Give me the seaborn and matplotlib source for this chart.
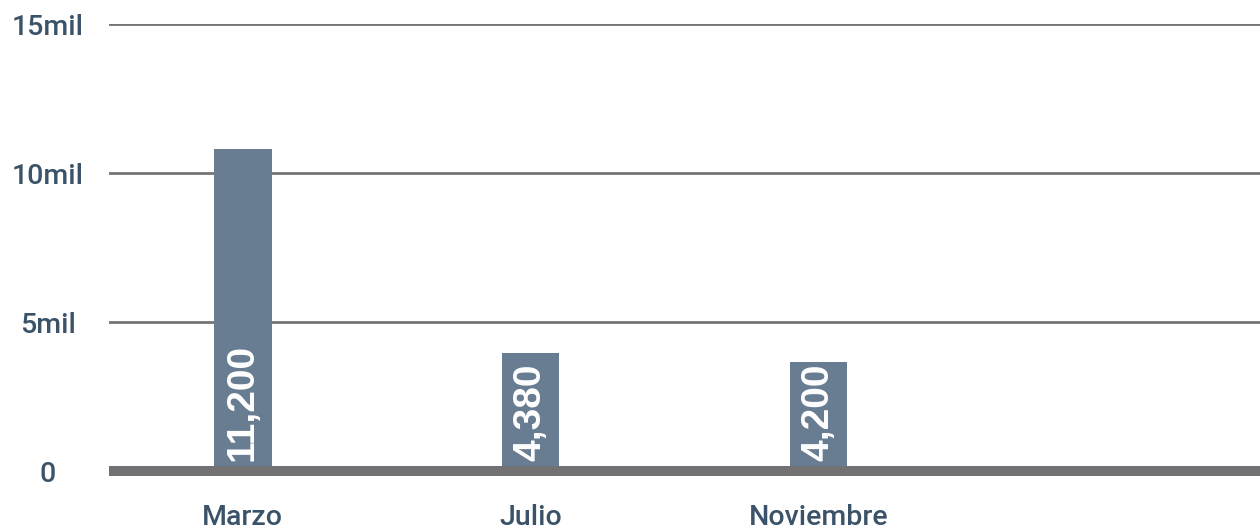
import matplotlib
matplotlib.use("Agg")
import matplotlib.pyplot as plt
import pandas as pd
import seaborn as sns

# values
months = ["Marzo", "Julio", "Noviembre"]
bar_heights = [10800, 3950, 3650]
bar_labels = ["11,200", "4,380", "4,200"]
y_ticks = [0, 5000, 10000, 15000]
y_tick_labels = ["0", "5mil", "10mil", "15mil"]

sns.set_theme(style="white")
plt.rcParams["font.family"] = ["Roboto", "Liberation Sans", "DejaVu Sans"]

bar_color = "#687d91"
text_color = "#3b5369"
grid_color = "#747474"

df = pd.DataFrame({"mes": months, "valor": bar_heights})

fig = plt.figure(figsize=(12.6, 5.3), dpi=100)
ax = fig.add_axes([0.0865, 0.1113, 0.9135, 0.8434])

sns.barplot(data=df, x="mes", y="valor", color=bar_color, width=0.2,
            saturation=1, linewidth=0, ax=ax, zorder=3)

for y in y_ticks[1:]:
    ax.axhline(y, color=grid_color, linewidth=2.0, zorder=1)
base = ax.axhline(0, color="#727275", linewidth=7.2, zorder=4, clip_on=False)
base.set_solid_capstyle("butt")

for i, lab in enumerate(bar_labels):
    ax.annotate(lab, xy=(i, 0), xytext=(0, 7), textcoords="offset points",
                rotation=90, ha="center", va="bottom", color="white",
                fontsize=28, fontweight="bold", zorder=5,
                family=["Liberation Sans", "DejaVu Sans"])

ax.set_xlim(-0.465, 3.535)
ax.set_ylim(0, 15000)
ax.set_yticks(y_ticks)
ax.set_yticklabels(y_tick_labels)
ax.set_xlabel("")
ax.set_ylabel("")

ax.tick_params(axis="y", length=0, pad=44, labelsize=20.5, labelcolor=text_color)
ax.tick_params(axis="x", length=0, pad=24, labelsize=20.5, labelcolor=text_color)
for t in ax.get_yticklabels():
    t.set_horizontalalignment("center")
    t.set_fontweight("medium")
for t in ax.get_xticklabels():
    t.set_fontweight("medium")

sns.despine(ax=ax, left=True, bottom=True)

fig.savefig("out.png", dpi=100)
